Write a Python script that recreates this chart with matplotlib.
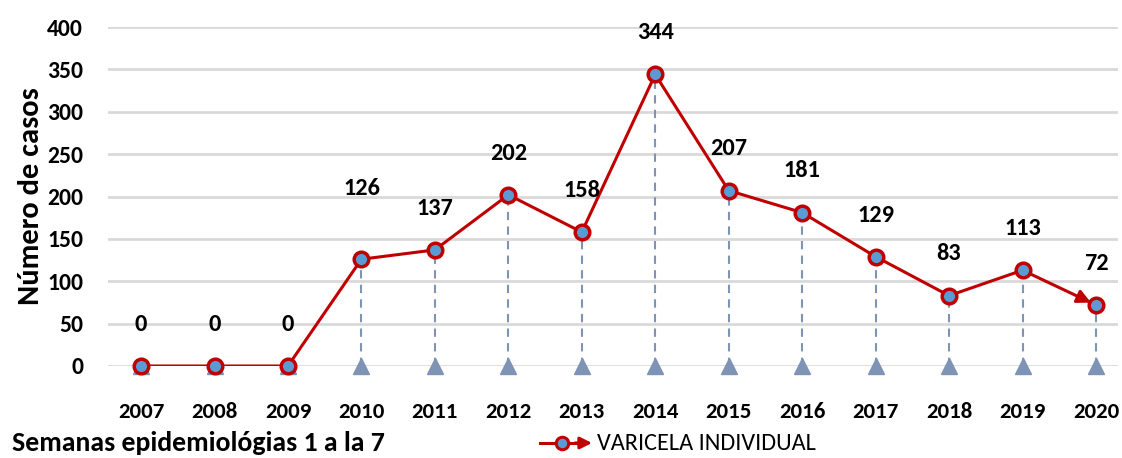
import matplotlib
matplotlib.use("Agg")
import matplotlib.pyplot as plt

plt.rcParams["font.family"] = ["Carlito", "Barlow Semi Condensed", "DejaVu Sans"]
plt.rcParams["font.weight"] = "bold"

years = [2007, 2008, 2009, 2010, 2011, 2012, 2013, 2014, 2015, 2016, 2017, 2018, 2019, 2020]
cases = [0, 0, 0, 126, 137, 202, 158, 344, 207, 181, 129, 83, 113, 72]
y_ticks = [0, 50, 100, 150, 200, 250, 300, 350, 400]

red = "#C00000"
blue = "#5B9BD5"
drop = "#7F93B5"


def main():
    fig = plt.figure(figsize=(11.22, 4.58), dpi=100)
    ax = fig.add_axes([108 / 1122, 92 / 458, 1010 / 1122, 339 / 458])

    for y in y_ticks:
        ax.axhline(y, color="#D9D9D9", linewidth=2, zorder=0)

    # drop lines with triangles at the base
    for x, v in zip(years, cases):
        ax.plot([x, x], [0, v], color=drop, linestyle=(0, (4, 3)), linewidth=1.5, zorder=1)
    ax.plot(years, [0] * len(years), linestyle="none", marker="^", markersize=11,
            color=drop, zorder=2, clip_on=False)

    ax.plot(years[:-1], cases[:-1], color=red, linewidth=2.2, zorder=3)
    ax.annotate("", xy=(years[-1], cases[-1]), xytext=(years[-2], cases[-2]),
                arrowprops=dict(arrowstyle="-|>,head_length=0.8,head_width=0.4",
                                color=red, lw=2.2, shrinkA=0, shrinkB=4),
                zorder=3)
    ax.plot(years, cases, linestyle="none", marker="o", markersize=10.5,
            markerfacecolor=blue, markeredgecolor=red, markeredgewidth=2.5,
            zorder=4, clip_on=False)

    for x, v in zip(years, cases):
        off = 51 if v == 126 else 30
        ax.annotate(str(v), (x, v), xytext=(0, off), textcoords="offset points",
                    ha="center", va="center", fontsize=17.5, fontweight="bold")

    ax.set_xlim(2006.55, 2020.3)
    ax.set_ylim(0, 400)
    ax.set_yticks(y_ticks)
    ax.set_xticks(years)
    ax.tick_params(axis="both", length=0, labelsize=17)
    ax.tick_params(axis="x", labelsize=16.5, pad=26)
    ax.tick_params(axis="y", pad=18)
    for s in ax.spines.values():
        s.set_visible(False)
    ax.set_ylabel("Número de casos", fontsize=22, fontweight="bold", labelpad=2)

    fig.text(12 / 1122, 1 - 443 / 458, "Semanas epidemiológias 1 a la 7",
             fontsize=20, fontweight="bold", va="center", ha="left")

    # legend drawn by hand: line, marker, arrow head
    ly = 1 - 443 / 458
    fig.add_artist(plt.Line2D([540 / 1122, 580 / 1122], [ly, ly], color=red, linewidth=2.2))
    fig.add_artist(plt.Line2D([562 / 1122], [ly], marker="o", markersize=9,
                              markerfacecolor=blue, markeredgecolor=red, markeredgewidth=2.2))
    ax.annotate("", xy=(592 / 1122, ly), xytext=(575 / 1122, ly), xycoords="figure fraction",
                textcoords="figure fraction",
                arrowprops=dict(arrowstyle="-|>,head_length=0.7,head_width=0.35",
                                color=red, lw=2.2, shrinkA=0, shrinkB=0))
    fig.text(597 / 1122, ly, "VARICELA INDIVIDUAL", fontsize=17.5, fontweight="normal",
             va="center", ha="left")

    fig.savefig("out.png", dpi=100)


if __name__ == "__main__":
    main()
